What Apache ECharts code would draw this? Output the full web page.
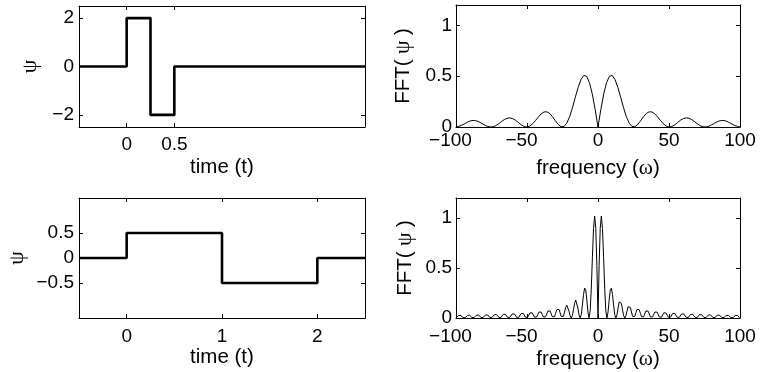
<!DOCTYPE html>
<html>
<head>
<meta charset="utf-8">
<script src="https://cdn.jsdelivr.net/npm/echarts@6/dist/echarts.min.js"></script>
<style>
html,body{margin:0;padding:0;background:#fff;}
#chart{width:761px;height:372px;}
</style>
</head>
<body>
<div id="chart"></div>
<script>
// ---- data ----
const tTop = [-0.5, 0, 0.25, 0.5, 2.5];
const psiTop = [0, 2, -2, 0, 0];
const tBot = [-0.5, 0, 1, 2, 2.5];
const psiBot = [0, 0.5, -0.5, 0, 0];

const freqA = [
  -100,-98,-96,-94,-92,-90,-88,-86,-84,-82,-80,-78,-76,-74,-72,-70,-68,-66,-64,-62,
  -60,-58,-56,-54,-52,-50,-48,-46,-44,-42,-40,-38,-36,-34,-32,-30,-28,-26,-24,-22,
  -20,-18,-16,-14,-12,-10,-8,-6,-4,-2,0,
  2,4,6,8,10,12,14,16,18,20,22,24,26,28,30,32,34,36,38,40,
  42,44,46,48,50,52,54,56,58,60,62,64,66,68,70,72,74,76,78,80,
  82,84,86,88,90,92,94,96,98,100
];
const fftA = [
  0.000,0.007,0.017,0.031,0.047,0.060,0.064,0.062,0.052,0.037,0.021,0.007,0.000,0.002,0.013,0.031,0.053,0.073,0.086,0.090,
  0.082,0.066,0.043,0.021,0.005,0.000,0.009,0.032,0.064,0.099,0.129,0.148,0.149,0.133,0.101,0.061,0.025,0.003,0.005,0.037,
  0.101,0.189,0.291,0.389,0.466,0.507,0.498,0.436,0.323,0.172,0,
  0.172,0.323,0.436,0.498,0.507,0.466,0.389,0.291,0.189,0.101,0.037,0.005,0.003,0.025,0.061,0.101,0.133,0.149,0.148,0.129,
  0.099,0.064,0.032,0.009,0.000,0.005,0.021,0.043,0.066,0.082,0.090,0.086,0.073,0.053,0.031,0.013,0.002,0.000,0.007,0.021,
  0.037,0.052,0.062,0.064,0.060,0.047,0.031,0.017,0.007,0.000
];

const freqB = [
  -99.75,-98.96,-98.17,-97.39,-96.60,-95.82,-95.03,-94.25,
  -93.46,-92.68,-91.89,-91.11,-90.32,-89.54,-88.75,-87.96,
  -87.18,-86.39,-85.61,-84.82,-84.04,-83.25,-82.47,-81.68,
  -80.90,-80.11,-79.33,-78.54,-77.75,-76.97,-76.18,-75.40,
  -74.61,-73.83,-73.04,-72.26,-71.47,-70.69,-69.90,-69.12,
  -68.33,-67.54,-66.76,-65.97,-65.19,-64.40,-63.62,-62.83,
  -62.05,-61.26,-60.48,-59.69,-58.90,-58.12,-57.33,-56.55,
  -55.76,-54.98,-54.19,-53.41,-52.62,-51.84,-51.05,-50.27,
  -49.48,-48.69,-47.91,-47.12,-46.34,-45.55,-44.77,-43.98,
  -43.20,-42.41,-41.63,-40.84,-40.06,-39.27,-38.48,-37.70,
  -36.91,-36.13,-35.34,-34.56,-33.77,-32.99,-32.20,-31.42,
  -30.63,-29.85,-29.06,-28.27,-27.49,-26.70,-25.92,-25.13,
  -24.35,-23.56,-22.78,-21.99,-21.21,-20.42,-19.63,-18.85,
  -18.06,-17.28,-16.49,-15.71,-14.92,-14.14,-13.35,-12.57,
  -11.78,-11.00,-10.21,-9.42,-8.64,-7.85,-7.07,-6.28,
  -5.50,-4.71,-3.93,-3.14,-2.36,-1.57,-0.79,
  0,
  0.79,1.57,2.36,3.14,3.93,4.71,5.50,
  6.28,7.07,7.85,8.64,9.42,10.21,11.00,11.78,
  12.57,13.35,14.14,14.92,15.71,16.49,17.28,18.06,
  18.85,19.63,20.42,21.21,21.99,22.78,23.56,24.35,
  25.13,25.92,26.70,27.49,28.27,29.06,29.85,30.63,
  31.42,32.20,32.99,33.77,34.56,35.34,36.13,36.91,
  37.70,38.48,39.27,40.06,40.84,41.63,42.41,43.20,
  43.98,44.77,45.55,46.34,47.12,47.91,48.69,49.48,
  50.27,51.05,51.84,52.62,53.41,54.19,54.98,55.76,
  56.55,57.33,58.12,58.90,59.69,60.48,61.26,62.05,
  62.83,63.62,64.40,65.19,65.97,66.76,67.54,68.33,
  69.12,69.90,70.69,71.47,72.26,73.04,73.83,74.61,
  75.40,76.18,76.97,77.75,78.54,79.33,80.11,80.90,
  81.68,82.47,83.25,84.04,84.82,85.61,86.39,87.18,
  87.96,88.75,89.54,90.32,91.11,91.89,92.68,93.46,
  94.25,95.03,95.82,96.60,97.39,98.17,98.96,99.75
];
const fftB = [
  0.004,0.014,0.025,0.029,0.025,0.015,0.004,0,
  0.004,0.015,0.026,0.031,0.027,0.016,0.005,0,
  0.005,0.016,0.028,0.033,0.029,0.017,0.005,0,
  0.005,0.018,0.030,0.036,0.031,0.018,0.005,0,
  0.006,0.019,0.033,0.039,0.034,0.020,0.006,0,
  0.006,0.021,0.036,0.043,0.037,0.022,0.006,0,
  0.007,0.023,0.040,0.047,0.041,0.024,0.007,0,
  0.007,0.026,0.044,0.053,0.046,0.027,0.008,0,
  0.008,0.029,0.050,0.060,0.052,0.031,0.009,0,
  0.010,0.033,0.058,0.069,0.060,0.036,0.011,0,
  0.011,0.039,0.068,0.081,0.071,0.043,0.013,0,
  0.013,0.047,0.083,0.100,0.087,0.053,0.016,0,
  0.017,0.060,0.105,0.128,0.113,0.069,0.021,0,
  0.023,0.081,0.146,0.179,0.161,0.100,0.031,0,
  0.035,0.128,0.235,0.299,0.278,0.179,0.058,0,
  0.075,0.299,0.612,0.896,1.020,0.896,0.525,
  0,
  0.525,0.896,1.020,0.896,0.612,0.299,0.075,
  0,0.058,0.179,0.278,0.299,0.235,0.128,0.035,
  0,0.031,0.100,0.161,0.179,0.146,0.081,0.023,
  0,0.021,0.069,0.113,0.128,0.105,0.060,0.017,
  0,0.016,0.053,0.087,0.100,0.083,0.047,0.013,
  0,0.013,0.043,0.071,0.081,0.068,0.039,0.011,
  0,0.011,0.036,0.060,0.069,0.058,0.033,0.010,
  0,0.009,0.031,0.052,0.060,0.050,0.029,0.008,
  0,0.008,0.027,0.046,0.053,0.044,0.026,0.007,
  0,0.007,0.024,0.041,0.047,0.040,0.023,0.007,
  0,0.006,0.022,0.037,0.043,0.036,0.021,0.006,
  0,0.006,0.020,0.034,0.039,0.033,0.019,0.006,
  0,0.005,0.018,0.031,0.036,0.030,0.018,0.005,
  0,0.005,0.017,0.029,0.033,0.028,0.016,0.005,
  0,0.005,0.016,0.027,0.031,0.026,0.015,0.004,
  0,0.004,0.015,0.025,0.029,0.025,0.014,0.004
];

const ticksTLx = [0, 0.5];
const ticksTLy = [-2, 0, 2];
const ticksBLx = [0, 1, 2];
const ticksBLy = [-0.5, 0, 0.5];
const ticksFx = [-100, -50, 0, 50, 100];
const ticksFy = [0, 0.5, 1];

// ---- styling ----
const SANS = 'Liberation Sans';
const SERIF = 'Liberation Serif';
const FS = 19;
const NFS = 20.5;
const black = '#000';

function fmt(v) { return String(v).replace('-', '\u2212'); }
function fmtCentered(v) {
  if (v < 0) return '{t|\u2212' + (-v) + '}{p| }';
  return '{t|' + v + '}';
}
const richCentered = {
  t: { fontFamily: SANS, fontSize: FS, color: black },
  p: { fontFamily: SANS, fontSize: FS, color: black, width: 11 }
};
const richName = {
  s: { fontFamily: SANS, fontSize: NFS, color: black },
  g: { fontFamily: SERIF, fontSize: NFS + 1, color: black }
};

function xAxes(grid, min, max, ticks, opts) {
  const base = {
    type: 'value', gridIndex: grid, min: min, max: max,
    splitLine: { show: false },
    axisLine: { show: true, onZero: false, lineStyle: { color: black, width: 1 } },
    axisTick: { show: true, inside: true, length: 4, customValues: ticks, lineStyle: { color: black, width: 1 } }
  };
  const bottom = Object.assign({}, base, {
    position: 'bottom',
    axisLabel: Object.assign({
      show: true, customValues: ticks, color: black, fontFamily: SANS, fontSize: FS,
      margin: opts.margin, formatter: opts.centered ? fmtCentered : fmt
    }, opts.centered ? { rich: richCentered } : {}),
    name: opts.name, nameLocation: 'middle', nameGap: opts.nameGap,
    nameTextStyle: { color: black, fontFamily: SANS, fontSize: NFS, rich: richName }
  });
  const top = Object.assign({}, base, { position: 'top', axisLabel: { show: false } });
  return [bottom, top];
}
function yAxes(grid, min, max, ticks, opts) {
  const base = {
    type: 'value', gridIndex: grid, min: min, max: max,
    splitLine: { show: false },
    axisLine: { show: true, onZero: false, lineStyle: { color: black, width: 1 } },
    axisTick: { show: true, inside: true, length: 4, customValues: ticks, lineStyle: { color: black, width: 1 } }
  };
  const left = Object.assign({}, base, {
    position: 'left',
    axisLabel: { show: true, customValues: ticks, color: black, fontFamily: SANS, fontSize: FS, margin: opts.margin, formatter: fmt },
    name: opts.name, nameLocation: 'middle', nameGap: opts.nameGap,
    nameTextStyle: { color: black, fontFamily: SERIF, fontSize: NFS + 1, rich: richName }
  });
  const right = Object.assign({}, base, { position: 'right', axisLabel: { show: false } });
  return [left, right];
}

function pairs(xs, ys) { return xs.map((x, i) => [x, ys[i]]); }

const xAxis = [].concat(
  xAxes(0, -0.5, 2.5, ticksTLx, { margin: 8, name: 'time (t)', nameGap: 30 }),
  xAxes(1, -100, 100, ticksFx, { margin: 4, centered: true, name: '{s|frequency (}{g|\u03c9}{s|)}', nameGap: 30 }),
  xAxes(2, -0.5, 2.5, ticksBLx, { margin: 9, name: 'time (t)', nameGap: 29 }),
  xAxes(3, -100, 100, ticksFx, { margin: 9, centered: true, name: '{s|frequency (}{g|\u03c9}{s|)}', nameGap: 30 })
);
const yAxis = [].concat(
  yAxes(0, -2.5, 2.5, ticksTLy, { margin: 5, name: '\u03c8', nameGap: 38 }),
  yAxes(1, 0, 1.2, ticksFy, { margin: 4, name: '{s|FFT(}{g| \u03c8 }{s|)}', nameGap: 42 }),
  yAxes(2, -1.2, 1.2, ticksBLy, { margin: 5, name: '\u03c8', nameGap: 51 }),
  yAxes(3, 0, 1.2, ticksFy, { margin: 4, name: '{s|FFT(}{g| \u03c8 }{s|)}', nameGap: 40 })
);

const option = {
  animation: false,
  backgroundColor: '#fff',
  grid: [
    { left: 79, top: 6, width: 286, height: 121 },
    { left: 456, top: 5, width: 284, height: 122 },
    { left: 79, top: 198, width: 286, height: 120 },
    { left: 456, top: 198, width: 284, height: 120 }
  ],
  xAxis: xAxis,
  yAxis: yAxis,
  series: [
    { type: 'line', xAxisIndex: 0, yAxisIndex: 0, step: 'end', symbol: 'none',
      lineStyle: { color: black, width: 2.6 }, data: pairs(tTop, psiTop) },
    { type: 'line', xAxisIndex: 2, yAxisIndex: 2, symbol: 'none',
      lineStyle: { color: black, width: 1 }, data: pairs(freqA, fftA) },
    { type: 'line', xAxisIndex: 4, yAxisIndex: 4, step: 'end', symbol: 'none',
      lineStyle: { color: black, width: 2.6 }, data: pairs(tBot, psiBot) },
    { type: 'line', xAxisIndex: 6, yAxisIndex: 6, symbol: 'none',
      lineStyle: { color: black, width: 1 }, data: pairs(freqB, fftB) }
  ]
};

const chart = echarts.init(document.getElementById('chart'), null, { renderer: 'canvas' });
chart.setOption(option);
</script>
</body>
</html>
